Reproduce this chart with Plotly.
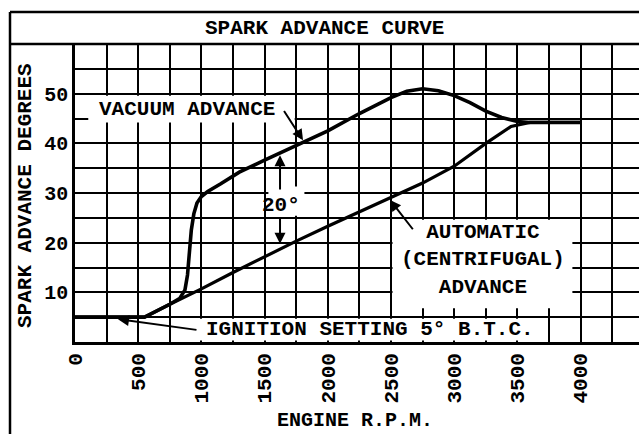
import plotly.graph_objects as go

# Engine speed (r.p.m.) and spark advance (degrees B.T.C.)
auto_rpm = [0, 550, 750, 1000, 1250, 1500, 1750, 2000, 2250, 2500, 2750, 3000,
            3250, 3450, 3600, 4000]
auto_deg = [5, 5, 7.6, 10.7, 14.0, 17.2, 20.3, 23.3, 26.2, 29.0, 32.0, 35.4,
            40.0, 43.4, 44.2, 44.2]

vac_rpm = [0, 550, 750, 830, 870, 890, 905, 920, 940, 965, 1000, 1050, 1150,
           1300, 1500, 1750, 2000, 2250, 2500, 2625, 2750, 2875, 3000, 3125,
           3250, 3375, 3500, 3600, 4000]
vac_deg = [5, 5, 7.6, 8.8, 10.5, 13.5, 18.0, 22.5, 25.8, 28.0, 29.3, 30.3, 31.8,
           34.2, 36.6, 39.5, 42.5, 46.0, 49.2, 50.5, 51.0, 50.6, 49.6, 48.2,
           46.5, 45.2, 44.4, 44.2, 44.2]

x_ticks = [0, 500, 1000, 1500, 2000, 2500, 3000, 3500, 4000]
x_tick_labels = [str(v) for v in x_ticks]
y_ticks = [10, 20, 30, 40, 50]
y_tick_labels = [str(v) for v in y_ticks]

FONT = "Liberation Mono"
INK = "black"


def txt(size=21):
    return dict(family=FONT, size=size, color=INK, weight="bold")


fig = go.Figure()
fig.add_trace(go.Scatter(x=vac_rpm, y=vac_deg, mode="lines",
                         line=dict(color=INK, width=3.6), name="Vacuum advance",
                         hoverinfo="skip"))
fig.add_trace(go.Scatter(x=auto_rpm, y=auto_deg, mode="lines",
                         line=dict(color=INK, width=3.2), name="Automatic advance",
                         hoverinfo="skip"))

grid = dict(showgrid=True, gridcolor=INK, gridwidth=2)
fig.update_xaxes(range=[0, 4462], tickmode="array", tickvals=x_ticks,
                 ticktext=x_tick_labels, tickangle=-90, tickfont=txt(21),
                 ticks="", ticklabelstandoff=0, zeroline=False,
                 showline=True, linecolor=INK, linewidth=2.5,
                 minor=dict(dtick=250, tick0=0, showgrid=True, gridcolor=INK,
                            gridwidth=2),
                 **grid)
fig.update_yaxes(range=[0, 60], tickmode="array", tickvals=y_ticks,
                 ticktext=y_tick_labels, tickfont=txt(20), ticks="",
                 ticklabelstandoff=0, zeroline=False,
                 showline=True, linecolor=INK, linewidth=2.5,
                 minor=dict(dtick=5, tick0=0, showgrid=True, gridcolor=INK,
                            gridwidth=2),
                 **grid)

# white panels that hold the labels inside the grid
panels = [
    (105, 1738, 44.2, 49.6),   # VACUUM ADVANCE
    (1530, 1815, 25.4, 31.3),  # 20°
    (2512, 3935, 6.8, 24.6),   # AUTOMATIC (CENTRIFUGAL) ADVANCE
    (770, 3738, 0.3, 4.7),     # IGNITION SETTING
]
shapes = []
for x0, x1, y0, y1 in panels:
    shapes.append(dict(type="rect", xref="x", yref="y", x0=x0, x1=x1, y0=y0,
                       y1=y1, fillcolor="white", line=dict(width=0),
                       layer="between"))

# outer frame and title band
px_l, px_w, px_b, px_h = 75, 564, 342, 298


def pxx(v):
    return (v - px_l) / px_w


def pxy(v):
    return (px_b - v) / px_h


frame = dict(color=INK, width=2.5)
shapes += [
    dict(type="line", xref="paper", yref="paper", x0=pxx(10), x1=1.02,
         y0=pxy(12), y1=pxy(12), line=frame),
    dict(type="line", xref="paper", yref="paper", x0=pxx(10), x1=1.02,
         y0=pxy(44), y1=pxy(44), line=frame),
    dict(type="line", xref="paper", yref="paper", x0=pxx(10), x1=pxx(10),
         y0=pxy(12), y1=pxy(440), line=frame),
]

centre = dict(xanchor="center", yanchor="middle", showarrow=False)
annotations = [
    dict(text="SPARK ADVANCE CURVE", xref="paper", yref="paper", x=pxx(324),
         y=pxy(28), font=txt(21), **centre),
    dict(text="SPARK ADVANCE DEGREES", xref="paper", yref="paper", x=pxx(26),
         y=pxy(196), textangle=-90, font=txt(21), **centre),
    dict(text="ENGINE R.P.M.", xref="paper", yref="paper", x=pxx(355),
         y=pxy(420), font=txt(20), **centre),
    dict(text="VACUUM ADVANCE", x=886, y=46.8, font=txt(21), **centre),
    dict(text="20°", x=1630, y=27.4, font=txt(21), **centre),
    dict(text="AUTOMATIC<br>(CENTRIFUGAL)<br>ADVANCE", x=3228, y=16.5,
         font=txt(21), **centre),
    dict(text="IGNITION SETTING 5° B.T.C.", x=2334, y=2.5, font=txt(21),
         **centre),
]

# leader lines and arrows: (tail x, tail y, head x, head y)
leaders = [
    (1646, 46.8, 1804, 40.6),   # vacuum advance
    (2682, 22.4, 2492, 28.6),   # automatic advance
    (973, 2.4, 340, 4.6),       # ignition setting
    (1622, 30.4, 1622, 37.6),   # 20° upper
    (1622, 25.3, 1622, 19.8),   # 20° lower
]
for tx, ty, hx, hy in leaders:
    annotations.append(dict(text="", x=hx, y=hy, ax=tx, ay=ty, axref="x",
                            ayref="y", showarrow=True, arrowhead=2,
                            arrowsize=1.1, arrowwidth=2, arrowcolor=INK,
                            standoff=0))

fig.update_layout(width=639, height=434,
                  margin=dict(l=75, r=0, t=44, b=92, pad=0),
                  paper_bgcolor="white", plot_bgcolor="white",
                  showlegend=False, shapes=shapes, annotations=annotations)

fig.write_html("out.html")
